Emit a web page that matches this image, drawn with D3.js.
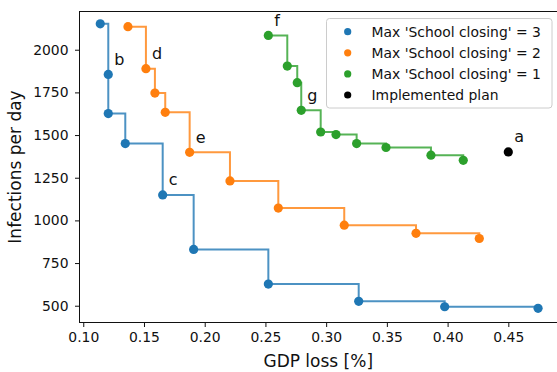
<!DOCTYPE html>
<html>
<head>
<meta charset="utf-8">
<script src="https://cdn.jsdelivr.net/npm/d3@7/dist/d3.min.js"></script>
<style>
  html, body { margin: 0; padding: 0; background: #fff; }
  svg { display: block; font-family: "DejaVu Sans", sans-serif; }
</style>
</head>
<body>
<svg id="chart" width="557" height="372"></svg>
<script>
// Pareto fronts: GDP loss [%] vs infections per day, by max school-closing level
const seriesNames = ["Max 'School closing' = 3", "Max 'School closing' = 2", "Max 'School closing' = 1"];
const seriesColors = ["#1f77b4", "#ff7f0e", "#2ca02c"];

const gdp3 = [0.114, 0.1206, 0.1206, 0.1346, 0.1654, 0.1909, 0.2524, 0.3268, 0.3976, 0.4745];
const inf3 = [2152, 1855, 1626, 1450, 1149, 830, 627, 526, 494, 485];

const gdp2 = [0.1368, 0.1516, 0.1590, 0.1675, 0.1876, 0.2208, 0.2606, 0.3149, 0.3740, 0.4261];
const inf2 = [2135, 1889, 1746, 1633, 1399, 1231, 1072, 972, 924, 894];

const gdp1 = [0.2524, 0.2680, 0.2762, 0.2795, 0.2955, 0.3081, 0.3251, 0.3493, 0.3863, 0.4129];
const inf1 = [2084, 1904, 1807, 1645, 1518, 1503, 1450, 1427, 1382, 1352];

const implementedGdp = 0.45;
const implementedInf = 1401;
const implementedName = "Implemented plan";

// annotated plans: series index (-1 = implemented), point index, letter
const annotSeries = [-1, 0, 0, 1, 1, 2, 2];
const annotIndex  = [0, 1, 4, 1, 4, 0, 3];
const annotText   = ["a", "b", "c", "d", "e", "f", "g"];

const xTicks = [0.10, 0.15, 0.20, 0.25, 0.30, 0.35, 0.40, 0.45];
const yTicks = [500, 750, 1000, 1250, 1500, 1750, 2000];

const svg = d3.select("#chart");
const plotL = 79.5, plotR = 557.5, plotT = 11.5, plotB = 322.5;

const x = d3.scaleLinear().domain([0.0969, 0.4905]).range([plotL, plotR]);
const y = d3.scaleLinear().domain([401.7, 2224]).range([plotB, plotT]);

const series = [
  gdp3.map((g, i) => [g, inf3[i]]),
  gdp2.map((g, i) => [g, inf2[i]]),
  gdp1.map((g, i) => [g, inf1[i]])
];

// step lines
const line = d3.line().x(d => x(d[0])).y(d => y(d[1])).curve(d3.curveStepAfter);
series.forEach((pts, s) => {
  svg.append("path")
    .attr("d", line(pts))
    .attr("fill", "none")
    .attr("stroke", seriesColors[s])
    .attr("stroke-opacity", 0.8)
    .attr("stroke-width", 2);
});

// markers
series.forEach((pts, s) => {
  svg.append("g").selectAll("circle").data(pts).join("circle")
    .attr("cx", d => x(d[0]))
    .attr("cy", d => y(d[1]))
    .attr("r", 4.6)
    .attr("fill", seriesColors[s]);
});
svg.append("circle")
  .attr("cx", x(implementedGdp)).attr("cy", y(implementedInf))
  .attr("r", 4.6).attr("fill", "#000");

// letters next to selected plans
annotText.forEach((t, k) => {
  const s = annotSeries[k];
  const p = s < 0 ? [implementedGdp, implementedInf] : series[s][annotIndex[k]];
  svg.append("text")
    .attr("x", x(p[0]) + 6)
    .attr("y", y(p[1]) - 9.5)
    .attr("font-size", 16)
    .attr("fill", "#111")
    .text(t);
});

// axes
const xAxis = d3.axisBottom(x).tickValues(xTicks).tickFormat(d3.format(".2f")).tickSize(4.5).tickPadding(5);
const yAxis = d3.axisLeft(y).tickValues(yTicks).tickFormat(d3.format("d")).tickSize(4.5).tickPadding(6.5);

const gx = svg.append("g").attr("transform", `translate(0,${plotB})`).call(xAxis);
const gy = svg.append("g").attr("transform", `translate(${plotL},0)`).call(yAxis);
[gx, gy].forEach(g => {
  g.select(".domain").remove();
  g.selectAll("text").attr("font-size", 13.9).attr("font-family", "DejaVu Sans").attr("fill", "#111");
  g.selectAll("line").attr("stroke", "#111").attr("stroke-width", 1);
});

// frame
svg.append("rect")
  .attr("x", plotL).attr("y", plotT)
  .attr("width", plotR - plotL).attr("height", plotB - plotT)
  .attr("fill", "none").attr("stroke", "#111").attr("stroke-width", 1);

// axis titles
svg.append("text")
  .attr("x", (plotL + 557) / 2).attr("y", 366.5)
  .attr("text-anchor", "middle").attr("font-size", 17).attr("fill", "#111")
  .text("GDP loss [%]");
svg.append("text")
  .attr("transform", `translate(20.5,${(plotT + plotB) / 2}) rotate(-90)`)
  .attr("text-anchor", "middle").attr("font-size", 17).attr("fill", "#111")
  .text("Infections per day");

// legend
const legendNames = seriesNames.concat([implementedName]);
const legendColors = seriesColors.concat(["#000"]);
const lg = svg.append("g");
lg.append("rect")
  .attr("x", 326.5).attr("y", 18.5).attr("width", 225.5).attr("height", 89.5)
  .attr("rx", 3).attr("fill", "#fff").attr("fill-opacity", 0.8)
  .attr("stroke", "#ccc").attr("stroke-width", 1);
legendNames.forEach((name, i) => {
  const cy = 31.7 + i * 21.1;
  lg.append("circle").attr("cx", 347.7).attr("cy", cy).attr("r", 3.6).attr("fill", legendColors[i]);
  lg.append("text").attr("x", 371.5).attr("y", cy + 5)
    .attr("font-size", 13.9).attr("fill", "#111").text(name);
});
</script>
</body>
</html>
